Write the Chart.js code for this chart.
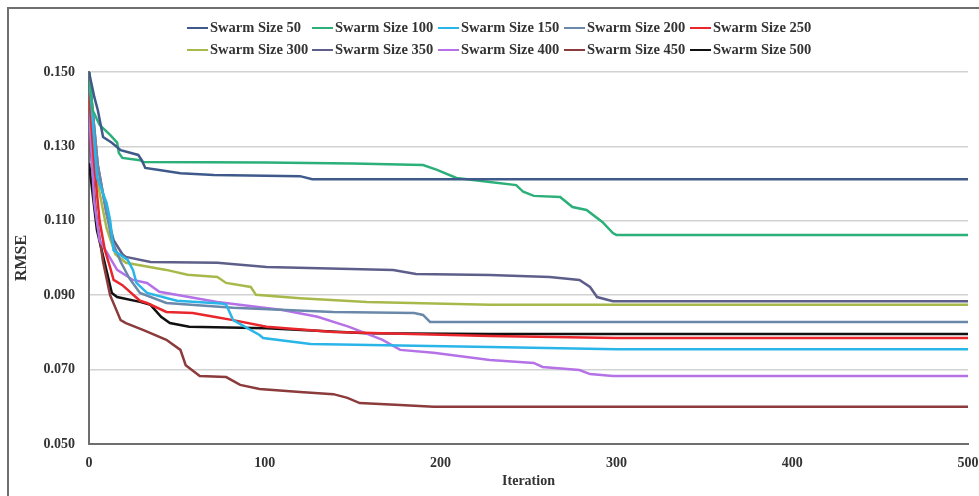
<!DOCTYPE html>
<html><head><meta charset="utf-8">
<script src="https://cdn.jsdelivr.net/npm/chart.js@4"></script>
<style>
html,body{margin:0;padding:0;background:#fff;}
#wrap{position:relative;width:979px;height:496px;overflow:hidden;}
#frame{position:absolute;left:7px;top:7px;width:1000px;height:520px;border:2px solid #707070;box-sizing:border-box;}
#c{position:absolute;left:0;top:0;}
#legend{position:absolute;left:0;top:0;width:979px;height:70px;font:bold 14.5px "Liberation Serif","Times New Roman",serif;color:#333;}
.li{position:absolute;white-space:nowrap;line-height:16px;}
.li .ln{display:inline-block;width:21px;height:2px;vertical-align:middle;margin-right:2px;position:relative;top:-1px;}
</style></head>
<body><div id="wrap"><div id="frame"></div><canvas id="c" width="979" height="496"></canvas><div id="legend"></div></div>
<script>
const seriesNames = ['Swarm Size 50','Swarm Size 100','Swarm Size 150','Swarm Size 200','Swarm Size 250','Swarm Size 300','Swarm Size 350','Swarm Size 400','Swarm Size 450','Swarm Size 500'];
const seriesColors = ['#3f5a8a','#2bb07a','#29b5e8','#6a88aa','#e8262c','#a8b84a','#5e5e8a','#b472e6','#8b3b3b','#111111'];
const yTicks = [0.05,0.07,0.09,0.11,0.13,0.15];
const xTicks = [0,100,200,300,400,500];

const iter50 = [0,3,5,8,13,18,28,30,32,39,52,71,120,127,500];
const rmse50 = [0.150,0.1433,0.1398,0.1325,0.131,0.129,0.1277,0.1263,0.1242,0.1237,0.1228,0.1223,0.122,0.1212,0.1212];
const iter100 = [0,2,6,12,16,17,19,29,31,100,150,190,198,209,228,243,247,253,268,275,283,292,298,300,500];
const rmse100 = [0.150,0.1398,0.1358,0.1331,0.131,0.1282,0.1269,0.1263,0.1258,0.1257,0.1254,0.125,0.1237,0.1215,0.1204,0.1196,0.1178,0.1167,0.1164,0.1137,0.1129,0.1097,0.1067,0.1062,0.1062];
const iter150 = [0,4.5,10,12,14,22,25,27,33,50,75,78,82,97,99,126,228,300,500];
const rmse150 = [0.150,0.1218,0.1148,0.1102,0.1021,0.0995,0.0968,0.0933,0.0906,0.0885,0.0878,0.0875,0.0833,0.0793,0.0785,0.0769,0.0761,0.0755,0.0755];
const iter200 = [0,5,10,13,18,23,29,44,82,139,185,190,194,300,500];
const rmse200 = [0.150,0.125,0.112,0.1048,0.099,0.0945,0.0906,0.0879,0.0866,0.0855,0.0852,0.0847,0.0828,0.0828,0.0828];
const iter250 = [0,3,6,9,12,14,19,29,33,44,59,71,82,101,139,228,300,500];
const rmse250 = [0.1445,0.125,0.110,0.1022,0.0975,0.0941,0.0927,0.0885,0.0879,0.0855,0.0852,0.0842,0.0833,0.0815,0.0801,0.079,0.0785,0.0785];
const iter300 = [0,5,10,15,21,44,56,73,78,92,95,120,158,228,300,500];
const rmse300 = [0.150,0.120,0.108,0.101,0.0987,0.0968,0.0955,0.0949,0.0933,0.0922,0.0901,0.0892,0.0882,0.0874,0.0874,0.0874];
const iter350 = [0,5,10,14,19,21,35,73,101,173,186,228,262,279,285,289,298,500];
const rmse350 = [0.150,0.125,0.112,0.1048,0.101,0.1003,0.0989,0.0987,0.0976,0.0968,0.0957,0.0954,0.0949,0.0941,0.0922,0.0895,0.0884,0.0884];
const iter400 = [0,3,6,16,25,33,40,73,110,130,148,167,177,196,228,253,258,279,285,298,500];
const rmse400 = [0.140,0.115,0.1048,0.0968,0.0941,0.0933,0.0909,0.0882,0.086,0.0842,0.0815,0.078,0.0753,0.0745,0.0726,0.0718,0.0707,0.0699,0.0688,0.0683,0.0683];
const iter450 = [0,4,8,12,18,21,31,44,52,55,63,78,86,97,120,139,147,154,177,196,500];
const rmse450 = [0.135,0.112,0.099,0.090,0.0833,0.0825,0.0806,0.078,0.0753,0.0712,0.0683,0.068,0.0659,0.0648,0.064,0.0634,0.0624,0.061,0.0605,0.060,0.060];
const iter500 = [0,4.5,13,16,29,35,41,46,57,101,158,228,500];
const rmse500 = [0.1255,0.1075,0.0906,0.0895,0.0882,0.0874,0.0842,0.0825,0.0815,0.0811,0.0798,0.0796,0.0796];

const iters = [iter50,iter100,iter150,iter200,iter250,iter300,iter350,iter400,iter450,iter500];
const rmses = [rmse50,rmse100,rmse150,rmse200,rmse250,rmse300,rmse350,rmse400,rmse450,rmse500];

const datasets = seriesNames.map((n,i)=>({
  label:n,
  data: iters[i].map((x,j)=>({x:x,y:rmses[i][j]})),
  borderColor: seriesColors[i],
  backgroundColor: seriesColors[i],
  borderWidth: 2.5,
  pointRadius: 0,
  tension: 0,
  fill:false
}));

// HTML legend (two rows of five, column aligned)
const legendCols = [187,312,438,564,690];
const legendRows = [27,49];
const lg = document.getElementById('legend');
seriesNames.forEach((n,i)=>{
  const d = document.createElement('div');
  d.className='li';
  d.style.left = legendCols[i%5]+'px';
  d.style.top = (legendRows[Math.floor(i/5)]-8)+'px';
  d.innerHTML = '<span class="ln" style="background:'+seriesColors[i]+'"></span>'+n;
  lg.appendChild(d);
});

const tickFont = {family:'"Liberation Serif","Times New Roman",serif', size:14, weight:'bold'};
new Chart(document.getElementById('c'),{
  type:'line',
  data:{datasets},
  options:{
    responsive:false,
    animation:false,
    layout:{autoPadding:false, padding:{left:0,right:11,top:72,bottom:0}},
    plugins:{legend:{display:false}, tooltip:{enabled:false}},
    scales:{
      x:{
        type:'linear', min:0, max:500,
        afterBuildTicks: s=>{ s.ticks = xTicks.map(v=>({value:v})); },
        afterFit: s=>{ s.height = 52; s.paddingLeft = 0; s.paddingRight = 0; },
        grid:{display:false, drawTicks:false},
        border:{display:true,color:'#6e6e6e',width:2},
        ticks:{font:tickFont,color:'#333',padding:11, maxRotation:0},
        title:{display:true,text:'Iteration',font:{family:tickFont.family,size:14,weight:'bold'},color:'#333',padding:{top:0,bottom:6}}
      },
      y:{
        min:0.05, max:0.15,
        afterBuildTicks: s=>{ s.ticks = yTicks.map(v=>({value:v})); },
        afterFit: s=>{ s.width = 89; s.paddingTop = 0; s.paddingBottom = 0; },
        grid:{color:'#d2d2d2', lineWidth:1.5, drawTicks:false},
        border:{display:true,color:'#6e6e6e',width:2},
        ticks:{font:tickFont,color:'#333',padding:14, callback:v=>v.toFixed(3)},
        title:{display:true,text:'RMSE',font:{family:tickFont.family,size:16,weight:'bold'},color:'#333',padding:{top:12,bottom:0}}
      }
    }
  }
});
</script></body></html>
